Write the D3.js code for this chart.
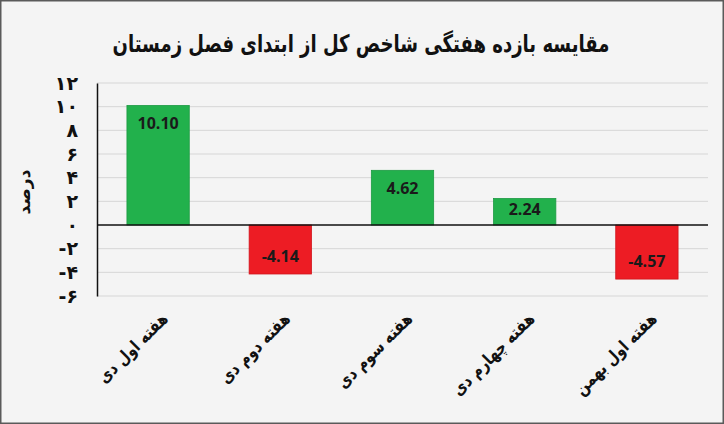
<!DOCTYPE html>
<html><head><meta charset="utf-8">
<script src="https://cdn.jsdelivr.net/npm/d3@7/dist/d3.min.js"></script>
<style>html,body{margin:0;padding:0;background:#f4f4f4;}svg{display:block;}</style>
</head><body><svg id="c" width="724" height="424"></svg>
<script>
const title = "مقایسه بازده هفتگی شاخص کل از ابتدای فصل زمستان";
const yTitle = "درصد";
const categories = ["هفته اول دی", "هفته دوم دی", "هفته سوم دی", "هفته چهارم دی", "هفته اول بهمن"];
const values = [10.10, -4.14, 4.62, 2.24, -4.57];
const yTicks = [-6, -4, -2, 0, 2, 4, 6, 8, 10, 12];
const faDigits = "۰۱۲۳۴۵۶۷۸۹";
const toFa = n => (n < 0 ? "-" : "") + String(Math.abs(n)).replace(/\d/g, d => faDigits[+d]);

(function () {
const W = 724, H = 424;
const svg = d3.select("#c");
svg.append("rect").attr("x", 0.75).attr("y", 0.75).attr("width", W - 1.5).attr("height", H - 1.5)
  .attr("fill", "#f4f4f4").attr("stroke", "#5a5a5a").attr("stroke-width", 1.5);

const mL = 97, mR = 708, mT = 83, mB = 296;
const x = d3.scaleBand().domain(categories).range([mL, mR]).paddingInner(0.49).paddingOuter(0.245);
const y = d3.scaleLinear().domain([-6, 12]).range([mB, mT]);

svg.append("text").attr("transform", "translate(361,52) scale(0.86,1.15)").attr("text-anchor", "middle")
  .attr("font-family", "DejaVu Sans").attr("font-weight", "bold").attr("font-size", 21)
  .attr("fill", "#111").attr("direction", "rtl").text(title);

// gridlines
svg.append("g").selectAll("line").data(yTicks.filter(t => t !== 0)).join("line")
  .attr("x1", mL).attr("x2", mR).attr("y1", d => y(d)).attr("y2", d => y(d))
  .attr("stroke", "#d6d6d6").attr("stroke-width", 1);

// y axis
const yAxis = d3.axisLeft(y).tickValues(yTicks).tickSize(0).tickPadding(19).tickFormat(toFa);
const gy = svg.append("g").attr("transform", `translate(${mL},0)`).call(yAxis);
gy.select(".domain").attr("stroke", "#111").attr("stroke-width", 1.5);
gy.selectAll("text").attr("font-family", "DejaVu Sans").attr("font-weight", "bold")
  .attr("font-size", 19).attr("fill", "#111").attr("direction", "ltr");

svg.append("text").attr("transform", "translate(30,192) rotate(-90)").attr("text-anchor", "middle")
  .attr("font-family", "DejaVu Sans").attr("font-weight", "bold").attr("font-size", 17)
  .attr("fill", "#111").attr("direction", "rtl").text(yTitle);

// bars
const colors = v => v >= 0 ? "#22b14c" : "#ed1c24";
svg.append("g").selectAll("rect").data(values).join("rect")
  .attr("x", (d, i) => x(categories[i])).attr("width", x.bandwidth())
  .attr("y", d => y(Math.max(0, d))).attr("height", d => Math.abs(y(d) - y(0)))
  .attr("fill", colors).attr("stroke", d => d >= 0 ? "#1c9a42" : "#d0141b").attr("stroke-width", 0.8);

// zero line
svg.append("line").attr("x1", mL).attr("x2", mR).attr("y1", y(0)).attr("y2", y(0))
  .attr("stroke", "#111").attr("stroke-width", 1.5);

// data labels
svg.append("g").selectAll("text").data(values).join("text")
  .attr("x", (d, i) => x(categories[i]) + x.bandwidth() / 2)
  .attr("y", d => {
    const h = Math.abs(y(d) - y(0));
    const off = Math.min(18, h * 0.4);
    return d >= 0 ? y(d) + off : y(d) - off;
  })
  .attr("dy", "0.35em").attr("text-anchor", "middle")
  .attr("font-family", "Open Sans").attr("font-weight", "bold").attr("font-size", 16)
  .attr("fill", "#1a1a1a").text(d => d.toFixed(2));

// x labels
svg.append("g").selectAll("text").data(categories).join("text")
  .attr("transform", d => `translate(${x(d) + x.bandwidth() / 2 + 11},${320}) rotate(-45) scale(0.95,1.15)`)
  .attr("text-anchor", "start").attr("direction", "rtl")
  .attr("font-family", "DejaVu Sans").attr("font-weight", "bold").attr("font-size", 15)
  .attr("fill", "#111").text(d => d);
})();
</script></body></html>
